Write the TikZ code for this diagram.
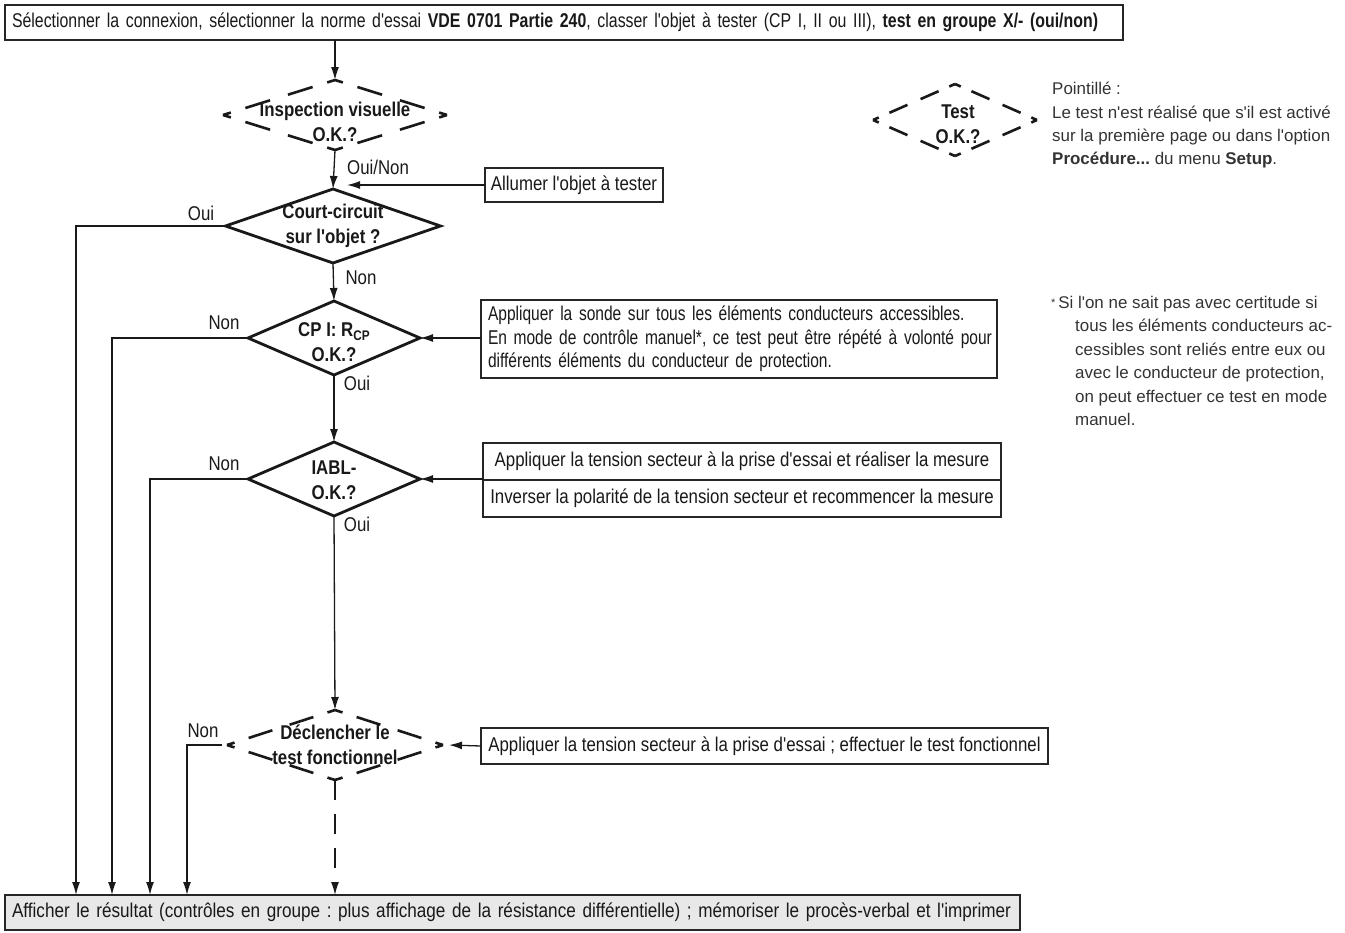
\documentclass[tikz,border=0pt]{standalone}
\usepackage{fontspec}
\setmainfont[FakeStretch=0.845,Ligatures=TeXOff]{Liberation Sans}
\newfontfamily\topfont[FakeStretch=0.797]{Liberation Sans}
\newfontfamily\resfont[FakeStretch=0.86]{Liberation Sans}
\newfontfamily\sondefont[FakeStretch=0.78]{Liberation Sans}
\newfontfamily\legfont{Liberation Sans}
\usetikzlibrary{shapes.geometric,arrows.meta,calc}
\frenchspacing
\newcommand\dside[2]{\draw[dsh] (#1) -- ($(#1)!0.07!(#2)$) ($(#1)!0.2!(#2)$) -- ($(#1)!0.42!(#2)$) ($(#1)!0.58!(#2)$) -- ($(#1)!0.8!(#2)$) ($(#1)!0.93!(#2)$) -- (#2);}
\newcommand\ddiamond[1]{\dside{#1.west}{#1.north}\dside{#1.north}{#1.east}\dside{#1.east}{#1.south}\dside{#1.south}{#1.west}}
\begin{document}
\begin{tikzpicture}[x=1bp,y=-1bp,
  mainfont/.style={font=\fontsize{20}{24}\selectfont},
  box/.style={draw=black!85, line width=1.2bp, fill=white, inner sep=0, outer sep=0, mainfont, text=black!90},
  dia/.style={diamond, draw=black!90, line width=2.8bp, inner sep=0, outer sep=0},
  ddia/.style={diamond, inner sep=0, outer sep=0},
  dsh/.style={line width=2.6bp, draw=black!90},
  dtxt/.style={font=\fontsize{20}{25}\selectfont\bfseries, align=center, inner sep=0, text=black!90},
  lbl/.style={font=\fontsize{20}{22}\selectfont, inner sep=0, text=black!90},
  arr/.style={-{Latex[length=13bp,width=8bp]}, line width=1.3bp, draw=black!90},
  legtxt/.style={font=\legfont\fontsize{17}{23.5}\selectfont, align=left, inner sep=0, text=black!80}
]
\useasboundingbox (0,0) rectangle (1345,932);

% top box
\node[box, font=\topfont\fontsize{20}{24}\selectfont, anchor=north west, minimum width=1118bp, minimum height=35bp, text width=1104bp, align=left] (top) at (5,5)
  {\mbox{Sélectionner la connexion, sélectionner la norme d'essai \textbf{VDE 0701 Partie 240}, classer l'objet à tester (CP I, II ou III), \textbf{test en groupe X/- (oui/non)}}};

% inspection (dashed)
\node[ddia, minimum width=224bp, minimum height=70bp] (insp) at (335,115) {};
\ddiamond{insp}
\node[dtxt] (inspt) at (335,122) {Inspection visuelle\\O.K.?};

% court-circuit
\node[dia, minimum width=215bp, minimum height=74bp] (cc) at (333,226) {};
\node[dtxt] (cct) at (333,226) {Court-circuit\\sur l'objet ?};

% allumer
\node[box, minimum width=178bp, minimum height=34bp] (allumer) at (574,185) {Allumer l'objet à tester};
\coordinate (ccin) at (347,185);

% CP
\node[dia, minimum width=172bp, minimum height=74bp] (cp) at (334,338) {};
\node[dtxt] (cpt) at (334,342) {CP I: R\raisebox{-0.35ex}{\fontsize{14}{14}\selectfont CP}\\O.K.?};

\node[box, font=\sondefont\fontsize{20}{23.5}\selectfont, minimum width=516bp, minimum height=78bp, text width=502bp, align=left] (sonde) at (739,339)
  {\mbox{Appliquer la sonde sur tous les éléments conducteurs accessibles.}\\\mbox{En mode de contrôle manuel*, ce test peut être répété à volonté pour}\\\mbox{différents éléments du conducteur de protection.}};

% IABL
\node[dia, minimum width=172bp, minimum height=74bp] (iabl) at (334,479) {};
\node[dtxt] (iablt) at (334,480) {IABL-\\O.K.?};

\node[box, minimum width=518bp, minimum height=37bp] (ten1) at (742,461.5) {Appliquer la tension secteur à la prise d'essai et réaliser la mesure};
\node[box, minimum width=518bp, minimum height=37bp] (ten2) at (742,498.5) {Inverser la polarité de la tension secteur et recommencer la mesure};
\coordinate (tenin) at (483,479);

% declencher (dashed)
\node[ddia, minimum width=216bp, minimum height=70bp] (decl) at (335,745) {};
\ddiamond{decl}
\node[dtxt] (declt) at (335,745) {Déclencher le\\test fonctionnel};

\node[box, minimum width=567bp, minimum height=36bp] (fonct) at (764.5,746) {Appliquer la tension secteur à la prise d'essai ; effectuer le test fonctionnel};

% result
\node[box, font=\resfont\fontsize{20}{24}\selectfont, fill=black!9, anchor=north west, minimum width=1015bp, minimum height=35bp, text width=1001bp, align=left] (res) at (5,895)
  {\mbox{Afficher le résultat (contrôles en groupe : plus affichage de la résistance différentielle) ; mémoriser le procès-verbal et l'imprimer}};

% x positions of return lines
\coordinate (xa) at (76,0);
\coordinate (xb) at (112,0);
\coordinate (xc) at (150,0);
\coordinate (xd) at (187,0);

% connectors
\draw[arr] (insp.north |- top.south) -- (insp.north);
\draw[arr] (insp.south) -- (cc.north);
\draw[arr] (allumer.west) -- (ccin);
\draw[arr] (cc.south) -- (cp.north);
\draw[arr] (sonde.west |- cp.east) -- (cp.east);
\draw[arr] (cp.south) -- (iabl.north);
\draw[arr] (tenin) -- (iabl.east);
\draw[arr] (iabl.south) -- (decl.north);
\draw[arr] (fonct.west) -- ($(decl.east)+(6,0)$);
\draw[arr, dash pattern=on 20bp off 14bp] (decl.south) -- (res.north -| decl.south);

\draw[arr] (cc.west) -| (res.north -| xa);
\draw[arr] (cp.west) -| (res.north -| xb);
\draw[arr] (iabl.west) -| (res.north -| xc);
\draw[arr] ($(decl.west)+(-5,0)$) -| (res.north -| xd);

% labels
\node[lbl, anchor=west] (l1) at (347,167) {Oui/Non};
\node[lbl] (l2) at (201,213) {Oui};
\node[lbl] (l3) at (361,278) {Non};
\node[lbl] (l4) at (224,323) {Non};
\node[lbl] (l5) at (357,383) {Oui};
\node[lbl] (l6) at (224,464) {Non};
\node[lbl] (l7) at (357,524) {Oui};
\node[lbl] (l8) at (203,731) {Non};

% legend
\node[ddia, minimum width=164bp, minimum height=72bp] (leg) at (955,120) {};
\ddiamond{leg}
\node[dtxt] (legt) at (958,124) {Test\\O.K.?};

\node[legtxt, anchor=north west] (legtext) at (1052,82)
  {Pointillé :\\Le test n'est réalisé que s'il est activé\\sur la première page ou dans l'option\\\textbf{Procédure...} du menu \textbf{Setup}.};

\node[legtxt, anchor=north west] (foot) at (1051,296)
  {\raisebox{0.2ex}{\fontsize{11}{11}\selectfont *}\,Si l'on ne sait pas avec certitude si\\
   \hspace*{24bp}tous les éléments conducteurs ac-\\
   \hspace*{24bp}cessibles sont reliés entre eux ou\\
   \hspace*{24bp}avec le conducteur de protection,\\
   \hspace*{24bp}on peut effectuer ce test en mode\\
   \hspace*{24bp}manuel.};
\end{tikzpicture}
\end{document}
